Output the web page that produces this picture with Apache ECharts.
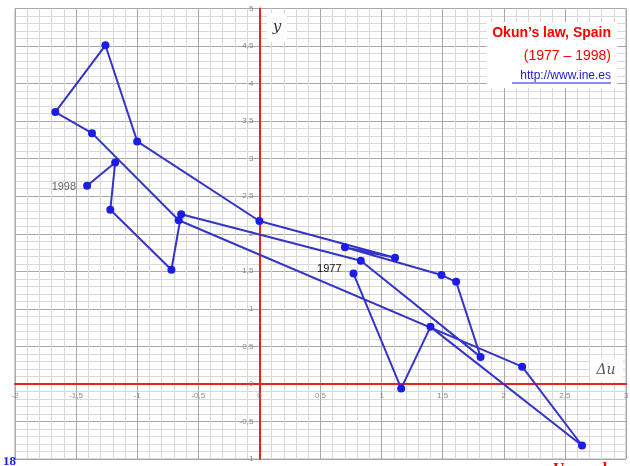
<!DOCTYPE html>
<html>
<head>
<meta charset="utf-8">
<script src="https://cdn.jsdelivr.net/npm/echarts@6/dist/echarts.min.js"></script>
<style>
  html, body { margin: 0; padding: 0; background: #fff; }
  #chart { width: 630px; height: 466px; }
</style>
</head>
<body>
<div id="chart"></div>
<script>
// years and (delta u, y) pairs, in time order
var years = [1977, 1978, 1979, 1980, 1981, 1982, 1983, 1984, 1985, 1986, 1987,
  1988, 1989, 1990, 1991, 1992, 1993, 1994, 1995, 1996, 1997, 1998];
var deltaU = [0.77, 1.16, 1.40, 2.64, 2.15, -0.66, -1.37, -1.67, -1.26, -1.00, 0.00,
  1.11, 0.70, 1.49, 1.61, 1.81, 0.83, -0.64, -0.72, -1.22, -1.18, -1.41];
var growth = [1.47, -0.06, 0.76, -0.82, 0.23, 2.18, 3.34, 3.62, 4.51, 3.23, 2.17,
  1.68, 1.82, 1.45, 1.36, 0.36, 1.64, 2.26, 1.52, 2.32, 2.95, 2.64];

var xMin = -2, xMax = 3, yMin = -1, yMax = 5;
var gridLeft = 15, gridRight = 4, gridTop = 8.5, gridBottom = 7;

var chartDom = document.getElementById("chart");
var myChart = echarts.init(chartDom);

var points = [];
for (var i = 0; i < years.length; i++) {
  var item = { value: [deltaU[i], growth[i]] };
  if (i === 0) {
    item.label = { show: true, formatter: "" + years[i], position: "left", offset: [-3, -5], color: "#111", fontSize: 11 };
  }
  if (i === years.length - 1) {
    item.label = { show: true, formatter: "" + years[i], position: "left", offset: [-2, 1], color: "#666", fontSize: 11 };
  }
  points.push(item);
}

function comma(v) {
  return ("" + v).replace(".", ",");
}

// put the axes (line + labels) through the origin
var plotW = 630 - gridLeft - gridRight;
var plotH = 466 - gridTop - gridBottom;
var xAxisOffset = -plotH * (0 - yMin) / (yMax - yMin);
var yAxisOffset = -plotW * (0 - xMin) / (xMax - xMin);

var option = {
  backgroundColor: "#fff",
  animation: false,
  grid: {
    left: gridLeft,
    right: gridRight,
    top: gridTop,
    bottom: gridBottom,
    containLabel: false,
    outerBoundsMode: "none",
    show: true,
    borderColor: "#aaa",
    borderWidth: 1,
  },
  xAxis: {
    type: "value",
    min: xMin,
    max: xMax,
    interval: 0.5,
    position: "bottom",
    offset: xAxisOffset,
    axisLine: { show: true, onZero: false, lineStyle: { color: "#e8231f", width: 2 } },
    axisTick: { show: false },
    axisLabel: { color: "#888", fontSize: 8, margin: 8, formatter: comma, showMinLabel: true, showMaxLabel: true },
    splitLine: { show: true, lineStyle: { color: "#a8a8a8", width: 1 } },
    minorTick: { show: false, splitNumber: 5 },
    minorSplitLine: { show: true, lineStyle: { color: "#d9d9d9", width: 1 } },
  },
  yAxis: {
    type: "value",
    min: yMin,
    max: yMax,
    interval: 0.5,
    position: "left",
    offset: yAxisOffset,
    axisLine: { show: true, onZero: false, lineStyle: { color: "#e8231f", width: 2 } },
    axisTick: { show: false },
    axisLabel: { color: "#888", fontSize: 8, margin: 6, formatter: comma, showMinLabel: true, showMaxLabel: true },
    splitLine: { show: true, lineStyle: { color: "#a8a8a8", width: 1 } },
    minorTick: { show: false, splitNumber: 5 },
    minorSplitLine: { show: true, lineStyle: { color: "#d9d9d9", width: 1 } },
  },
  series: [
    {
      type: "line",
      data: points,
      symbol: "circle",
      symbolSize: 8,
      lineStyle: { color: "#3434c8", width: 2 },
      itemStyle: { color: "#1c1ce8" },
      z: 5,
    },
  ],
  graphic: [
    { type: "rect", shape: { x: 267, y: 13, width: 20, height: 29 }, style: { fill: "#fff" }, z: 10 },
    { type: "text", x: 277, y: 27, style: { text: "y", font: "italic 15px 'DejaVu Serif'", fill: "#333", align: "center", verticalAlign: "middle" }, z: 11 },
    { type: "rect", shape: { x: 590, y: 358, width: 33, height: 23 }, style: { fill: "#fff" }, z: 10 },
    { type: "text", x: 606, y: 370, style: { text: "Δu", font: "italic 14px 'DejaVu Serif'", fill: "#555", align: "center", verticalAlign: "middle" }, z: 11 },
    { type: "rect", shape: { x: 487, y: 22, width: 130, height: 66 }, style: { fill: "#fff" }, z: 10 },
    { type: "text", x: 611, y: 33, style: { text: "Okun’s law, Spain", font: "bold 14px 'Liberation Sans'", fill: "#ff0000", align: "right", verticalAlign: "middle" }, z: 11 },
    { type: "text", x: 611, y: 56, style: { text: "(1977 – 1998)", font: "14px 'Liberation Sans'", fill: "#ff0000", align: "right", verticalAlign: "middle" }, z: 11 },
    { type: "text", x: 611, y: 76, style: { text: "http://www.ine.es", font: "12px 'Liberation Sans'", fill: "#1a1ad0", align: "right", verticalAlign: "middle" }, z: 11 },
    { type: "line", shape: { x1: 512, y1: 83, x2: 611, y2: 83 }, style: { stroke: "#1a1ad0", lineWidth: 1 }, z: 11 },
    { type: "text", x: 3, y: 455, style: { text: "18", font: "bold 13px 'Liberation Serif'", fill: "#1a1aff" }, z: 11 },
    { type: "text", x: 553, y: 462, style: { text: "Unemployment", font: "bold 16px 'Liberation Serif'", fill: "#ff0000" }, z: 11 },
  ],
};

option && myChart.setOption(option);
</script>
</body>
</html>
